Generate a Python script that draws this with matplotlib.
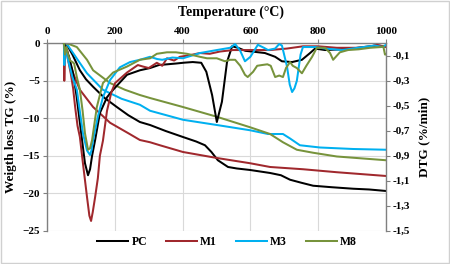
import numpy as np
import matplotlib
matplotlib.use("Agg")
import matplotlib.pyplot as plt
from matplotlib.ticker import FixedLocator, FuncFormatter
from matplotlib.patches import Rectangle

plt.rcParams['font.family'] = ['Liberation Serif', 'DejaVu Serif']
plt.rcParams['font.weight'] = 'bold'

# ---- TG curves (weight loss, %), left axis ----
t_tg_pc = [50, 60, 75, 97, 115, 136, 170, 206, 240, 274, 304, 350, 401, 440, 466, 485, 504, 534,
           560, 599, 658, 690, 717, 750, 785, 840, 903, 950, 1000]
tg_pc = [0, -0.3, -1.5, -3.6, -4.8, -5.8, -7.3, -8.5, -9.6, -10.5, -10.9, -11.7, -12.5, -13.1,
         -13.6, -14.5, -15.6, -16.5, -16.7, -16.9, -17.3, -17.6, -18.2, -18.6, -19.0, -19.2,
         -19.4, -19.5, -19.7]

t_tg_m1 = [50, 60, 67, 77, 97, 136, 186, 240, 274, 304, 333, 401, 451, 501, 599, 658, 755, 855, 1000]
tg_m1 = [0, -1.0, -2.5, -4.0, -6.2, -8.5, -10.6, -12.0, -12.9, -13.2, -13.6, -14.5, -14.9, -15.3,
         -16.0, -16.5, -16.8, -17.2, -17.7]

t_tg_m3 = [50, 60, 77, 95, 118, 165, 220, 274, 304, 401, 501, 599, 652, 696, 717, 746, 805, 903, 1000]
tg_m3 = [0, -0.2, -1.3, -2.5, -4.0, -6.2, -7.4, -8.2, -9.0, -10.2, -10.9, -11.6, -12.1, -12.1,
         -12.7, -13.6, -13.9, -14.1, -14.2]

t_tg_m8 = [50, 65, 88, 118, 136, 186, 230, 274, 304, 401, 501, 599, 658, 696, 737, 785, 855, 1000]
tg_m8 = [0, -0.1, -0.5, -2.2, -3.6, -5.3, -6.2, -6.9, -7.3, -8.5, -9.8, -11.2, -12.1, -13.2,
         -14.2, -14.6, -15.1, -15.6]

# ---- DTG curves (%/min), right axis ----
t_dtg_pc = [50, 55, 65, 77, 87, 97, 105, 112, 121, 127, 133, 142, 156, 177, 195, 236, 274, 304,
            330, 355, 380, 405, 430, 455, 470, 487, 501, 516, 531, 546, 563, 585, 605, 643, 673,
            693, 723, 752, 776, 791, 820, 870, 917, 970, 1000]
dtg_pc = [0, -0.036, -0.108, -0.24, -0.42, -0.636, -0.81, -0.96, -1.056, -1.008, -0.90, -0.774,
          -0.558, -0.432, -0.372, -0.252, -0.216, -0.198, -0.174, -0.168, -0.162, -0.155, -0.15,
          -0.156, -0.228, -0.414, -0.63, -0.468, -0.15, -0.024, -0.036, -0.06, -0.066, -0.078,
          -0.108, -0.144, -0.15, -0.132, -0.078, -0.042, -0.054, -0.048, -0.036, -0.018, -0.024]

t_dtg_m1 = [50, 51, 53, 58, 62, 70, 77, 83, 90, 97, 106, 118, 125, 130, 135, 142, 150, 156, 165,
            171, 177, 190, 201, 236, 268, 283, 300, 324, 340, 354, 375, 392, 420, 451, 480, 510,
            549, 600, 658, 708, 755, 800, 855, 914, 950, 973, 1000]
dtg_m1 = [0, -0.30, -0.06, -0.072, -0.132, -0.24, -0.36, -0.51, -0.66, -0.75, -0.96, -1.23,
          -1.38, -1.422, -1.35, -1.23, -1.08, -0.90, -0.78, -0.66, -0.54, -0.39, -0.318, -0.234,
          -0.174, -0.186, -0.198, -0.156, -0.18, -0.12, -0.138, -0.108, -0.096, -0.078, -0.084,
          -0.066, -0.054, -0.054, -0.054, -0.042, -0.024, -0.024, -0.036, -0.036, -0.03, -0.012,
          -0.03]

t_dtg_m3 = [50, 51, 53, 58, 62, 75, 88, 106, 118, 127, 131, 136, 150, 165, 186, 215, 245, 274,
            304, 325, 340, 370, 401, 430, 451, 501, 540, 555, 570, 584, 600, 622, 640, 652, 673,
            685, 693, 708, 716, 723, 730, 737, 748, 755, 791, 820, 870, 917, 967, 990, 1000]
dtg_m3 = [0, -0.174, -0.048, -0.072, -0.132, -0.27, -0.372, -0.72, -0.858, -0.894, -0.858,
          -0.774, -0.588, -0.432, -0.294, -0.192, -0.15, -0.132, -0.108, -0.126, -0.132, -0.114,
          -0.12, -0.096, -0.078, -0.054, -0.036, -0.006, -0.06, -0.144, -0.108, -0.012, -0.036,
          -0.054, -0.042, -0.006, -0.018, -0.186, -0.33, -0.39, -0.36, -0.30, -0.09, -0.03, -0.03,
          -0.042, -0.054, -0.036, -0.018, -0.03, -0.012]

t_dtg_m8 = [50, 53, 57, 62, 68, 75, 80, 88, 97, 105, 112, 121, 127, 133, 147, 165, 195, 236,
            274, 304, 324, 354, 380, 413, 451, 472, 501, 525, 540, 555, 570, 584, 592, 608, 620,
            634, 650, 660, 673, 685, 696, 705, 717, 725, 737, 752, 765, 782, 796, 820, 835, 844,
            864, 888, 920, 953, 985, 992, 997, 1000]
dtg_m8 = [0, -0.09, -0.03, -0.09, -0.138, -0.15, -0.162, -0.27, -0.372, -0.54, -0.72, -0.852,
          -0.84, -0.774, -0.51, -0.318, -0.234, -0.186, -0.132, -0.12, -0.084, -0.072, -0.072,
          -0.084, -0.108, -0.12, -0.12, -0.144, -0.132, -0.132, -0.18, -0.252, -0.27, -0.228,
          -0.18, -0.174, -0.168, -0.18, -0.27, -0.258, -0.27, -0.198, -0.15, -0.18, -0.198, -0.24,
          -0.18, -0.108, -0.036, -0.036, -0.078, -0.132, -0.072, -0.054, -0.048, -0.036, -0.03,
          -0.024, -0.09, -0.09]

names = ['PC', 'M1', 'M3', 'M8']
colors = ['#000000', '#a0282d', '#00b0f0', '#77933c']

fig = plt.figure(figsize=(4.5, 2.64), dpi=100)
ax = fig.add_axes([47 / 450, 1 - 230.7 / 264, (386 - 47) / 450, (230.7 - 43.3) / 264])
ax2 = ax.twinx()

tg = [(t_tg_pc, tg_pc), (t_tg_m1, tg_m1), (t_tg_m3, tg_m3), (t_tg_m8, tg_m8)]
dtg = [(t_dtg_pc, dtg_pc), (t_dtg_m1, dtg_m1), (t_dtg_m3, dtg_m3), (t_dtg_m8, dtg_m8)]

for (t, y), c, n in zip(tg, colors, names):
    ax.plot(t, y, color=c, lw=1.45, label=n)
for (t, y), c in zip(dtg, colors):
    ax2.plot(t, y, color=c, lw=1.45)

ax.set_xlim(0, 1000)
ax.set_ylim(-25, 0)
ax2.set_ylim(-1.5, 0)

gray = '#808080'
ax.xaxis.tick_top()
ax.xaxis.set_label_position('top')
ax.set_xticks(range(0, 1001, 200))
ax.set_yticks(range(-25, 1, 5))
ax2.yaxis.set_major_locator(FixedLocator([-0.1, -0.3, -0.5, -0.7, -0.9, -1.1, -1.3, -1.5]))
ax2.yaxis.set_major_formatter(FuncFormatter(lambda v, p: ('%.1f' % v).replace('.', ',')))

ax.grid(True, color='#d9d9d9', lw=0.8)
ax.set_axisbelow(True)
for a in (ax, ax2):
    a.spines['bottom'].set_visible(False)
    for s in ('top', 'left', 'right'):
        a.spines[s].set_color(gray)
        a.spines[s].set_linewidth(1.0)
    a.tick_params(direction='out', length=3, width=0.8, color=gray, labelsize=8, pad=2)
ax.spines['right'].set_visible(False)
ax2.spines['left'].set_visible(False)
ax2.spines['top'].set_visible(False)

ax.set_xlabel('Temperature (°C)', fontsize=10, fontweight='bold')
ax.xaxis.set_label_coords((231 - 47) / 339, 1 + (43.3 - 12) / 187.4)
ax.xaxis.label.set_va('center')
ax.set_ylabel('Weigth loss TG (%)', fontsize=9.5, fontweight='bold', labelpad=4)
ax2.set_ylabel('DTG (%/min)', fontsize=9.5, fontweight='bold', labelpad=6)

leg = fig.legend(loc='center', bbox_to_anchor=(0.505, 1 - 242 / 264), ncol=4, frameon=False,
                 fontsize=8.5, handlelength=2.6, columnspacing=1.6, handletextpad=0.3)

fig.patches.append(Rectangle((0.002, 0.004), 0.996, 0.992, transform=fig.transFigure,
                             fill=False, edgecolor='#d0d0d0', lw=1.0))

fig.savefig('out.png', dpi=100)
